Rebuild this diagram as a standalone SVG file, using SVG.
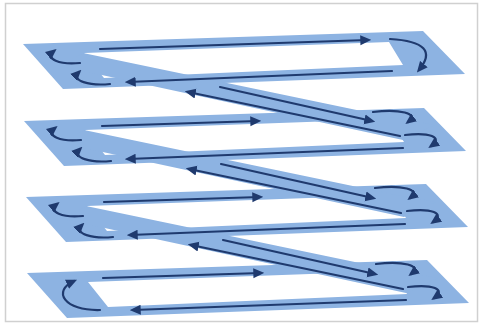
<svg xmlns="http://www.w3.org/2000/svg" width="483" height="324" viewBox="0 0 483 324">
<defs>
<style>
.ring{fill:#8db3e2;fill-rule:evenodd}
.band{fill:#8db3e2}
.ln{fill:none;stroke:#1f3a6e;stroke-width:2.2;stroke-linecap:round}
.ar{marker-end:url(#ah)}
</style>
<marker id="ah" viewBox="0 0 10 10" refX="7" refY="5" markerWidth="11" markerHeight="11" markerUnits="userSpaceOnUse" orient="auto">
<path d="M0,0.5 L10,5 L0,9.5 z" fill="#1f3a6e"/>
</marker>
<path id="ringShape" d="M23,44 L423,31 L465,74 L63,89 Z M84,53 L389,42 L403,65 L104,78 Z"/>
<path id="bandShape" d="M83,53 L395,118 L435,125 L403,140 L60,66 Z"/>
<g id="leftTurns">
<path class="ln ar" d="M80,63 C60,65 44,59 54,51"/>
<path class="ln ar" d="M110,84 C90,86 70,81 79,72"/>
</g>
<g id="rightTurns">
<path class="ln ar" d="M372,35 C398,32 419,36 407,45"/>
<path class="ln ar" d="M404,58 C428,55 443,60 430,69"/>
</g>
<g id="diagLines">
<path class="ln ar" d="M220,87 L372,121"/>
<path class="ln ar" d="M400,136 L188,92"/>
</g>
</defs>
<rect x="5.5" y="3.5" width="472" height="318" fill="#ffffff" stroke="#d0d0d0" stroke-width="1.5"/>
<g id="shapes">
<use href="#ringShape" class="ring"/>
<use href="#ringShape" class="ring" transform="translate(1,77)"/>
<use href="#ringShape" class="ring" transform="translate(3,153)"/>
<use href="#ringShape" class="ring" transform="translate(4,229)"/>
<use href="#bandShape" class="band"/>
<use href="#bandShape" class="band" transform="translate(1,77)"/>
<use href="#bandShape" class="band" transform="translate(3,153)"/>
</g>
<g id="layer1">
<path class="ln ar" d="M100,49 L368,40"/>
<path class="ln ar" d="M390,39 Q442,42 419,70"/>
<path class="ln ar" d="M392,71 L128,82"/>
<use href="#leftTurns"/>
</g>
<g id="layer2" transform="translate(1,77)">
<path class="ln ar" d="M101,49 L257,44"/>
<use href="#rightTurns"/>
<path class="ln ar" d="M402,71 L127,82"/>
<use href="#leftTurns"/>
</g>
<g id="layer3" transform="translate(3,153)">
<path class="ln ar" d="M101,49 L257,44"/>
<use href="#rightTurns"/>
<path class="ln ar" d="M402,71 L127,82"/>
<use href="#leftTurns"/>
</g>
<g id="layer4" transform="translate(4,229)">
<path class="ln ar" d="M99,49 L257,44"/>
<use href="#rightTurns"/>
<path class="ln ar" d="M402,71 L129,81"/>
<path class="ln ar" d="M96,81 C60,82 48,62 70,52"/>
</g>
<g id="connectors">
<use href="#diagLines"/>
<use href="#diagLines" transform="translate(1,77)"/>
<use href="#diagLines" transform="translate(3,153)"/>
</g>
</svg>
